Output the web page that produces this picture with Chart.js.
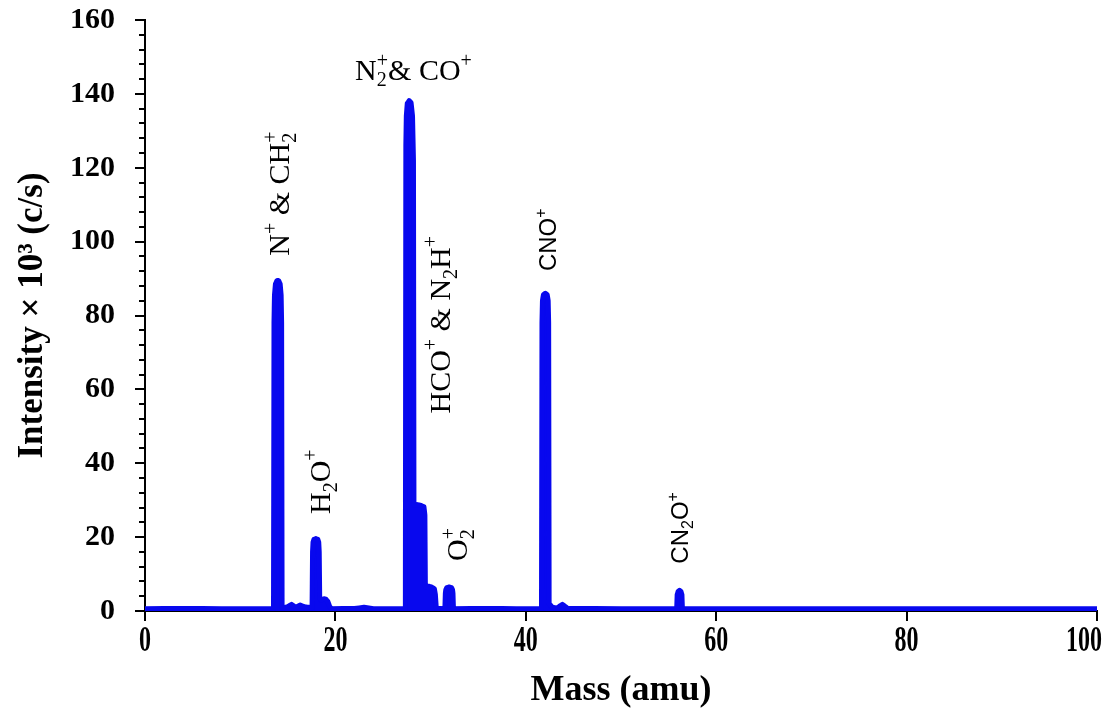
<!DOCTYPE html>
<html lang="en">
<head>
<meta charset="utf-8">
<script src="https://cdn.jsdelivr.net/npm/chart.js@4.4.0/dist/chart.umd.min.js"></script>
<style>
  html, body { margin: 0; padding: 0; background: #fff; }
  #wrap { width: 1106px; height: 715px; }
</style>
</head>
<body>
<div id="wrap"><canvas id="spectrum" width="1106" height="715"></canvas></div>
<script>
// mass scan, one intensity reading per mass step (x 10^3 c/s)
var masses = [
  0, 4, 8, 12, 13.5,
  13.55, 13.6, 13.7, 13.85, 13.95, 14.05, 14.2, 14.3, 14.35, 14.4,
  15.0, 15.4, 15.8, 16.3, 16.8, 17.55,
  17.6, 17.65, 17.75, 17.95, 18.15, 18.25, 18.3, 18.35,
  18.5, 18.8, 19.0, 19.2, 19.4, 19.6, 22, 23, 24, 27.35,
  27.4, 27.45, 27.55, 27.75, 27.95, 28.1, 28.2, 28.25,
  28.3, 28.6, 29.0, 29.3, 29.4, 29.45,
  29.5, 29.8, 30.1, 30.4, 30.5, 30.6, 31.5,
  31.55, 31.6, 31.7, 31.95, 32.2, 32.3, 32.35, 32.4,
  36, 39, 41.65,
  41.7, 41.75, 41.85, 42.05, 42.25, 42.35, 42.4, 42.45,
  42.8, 43.3, 43.6, 43.85, 44.1, 44.4, 50, 55.85,
  55.9, 56.0, 56.15, 56.3, 56.4, 56.45,
  65, 75, 85, 95, 100
];
var intensity = [
  0.6, 0.7, 0.6, 0.6, 0.6,
  78, 85.5, 88.5, 89.4, 89.5, 89.4, 88.5, 85.5, 78, 0.8,
  1.2, 1.8, 1.0, 1.6, 1.1, 0.9,
  16, 18.6, 19.4, 19.6, 19.4, 18.6, 16, 3.5,
  3.0, 3.3, 3.2, 2.6, 1.2, 0.6, 0.7, 1.0, 0.6, 0.6,
  126, 134, 137.4, 138.2, 137.6, 134, 122, 29,
  28.6, 28.8, 28.6, 28.2, 26, 6.5,
  6.6, 6.7, 6.5, 6.0, 4.5, 0.7, 0.6,
  4.8, 5.8, 6.3, 6.5, 6.3, 5.8, 4.8, 0.6,
  0.7, 0.6, 0.6,
  78, 84, 85.6, 86, 85.6, 84, 78, 2,
  1.0, 0.8, 1.4, 1.8, 1.3, 0.7, 0.6, 0.6,
  4.4, 5.3, 5.6, 5.3, 4.4, 0.6,
  0.6, 0.6, 0.6, 0.6, 0.6
];
var massTicks = [0, 20, 40, 60, 80, 100];
var intensityMax = 160;

// ion assignments: text pieces ['txt', 'sub'|'sup'], placed at (mass, level)
var ionLabels = [
  { parts: [['N'], ['+', 'sup'], [' & CH'], ['2', 'sub'], ['+', 'sup']], mass: 14.1, level: 113, vertical: true },
  { parts: [['H'], ['2', 'sub'], ['O'], ['+', 'sup']], mass: 18.4, level: 35, vertical: true },
  { parts: [['N'], ['2', 'sub'], ['+', 'sup'], ['& CO'], ['+', 'sup']], mass: 28.2, level: 146.5, vertical: false },
  { parts: [['HCO'], ['+', 'sup'], [' & N'], ['2', 'sub'], ['H'], ['+', 'sup']], mass: 31.0, level: 77.5, vertical: true },
  { parts: [['O'], ['2', 'sub'], ['+', 'sup']], mass: 32.8, level: 18, vertical: true },
  { parts: [['CNO'], ['+', 'sup']], mass: 42.3, level: 100.5, vertical: true, sans: true },
  { parts: [['CN'], ['2', 'sub'], ['O'], ['+', 'sup']], mass: 56.2, level: 22.5, vertical: true, sans: true }
];

var serif = '"Liberation Serif", "Times New Roman", serif';
var sans = '"Liberation Sans", Arial, sans-serif';
var blue = 'rgb(8, 8, 238)';

// draws sub/superscripted text centred on (0,0)
function drawRich(ctx, parts, size, family) {
  var small = Math.round(size * 0.65);
  var items = [], x = 0, subStart = null, subW = 0;
  parts.forEach(function (p) {
    var kind = p[1] || '';
    ctx.font = (kind ? small : size) + 'px ' + family;
    var w = ctx.measureText(p[0]).width;
    var start = x;
    if (kind === 'sup' && subStart !== null) {
      start = subStart;
      x = subStart + Math.max(w, subW);
    } else {
      x += w;
    }
    items.push({ t: p[0], kind: kind, x: start });
    if (kind === 'sub') { subStart = start; subW = w; } else { subStart = null; }
  });
  var total = x;
  ctx.fillStyle = '#000';
  ctx.textBaseline = 'alphabetic';
  ctx.textAlign = 'left';
  items.forEach(function (it) {
    ctx.font = (it.kind ? small : size) + 'px ' + family;
    var dy = size * 0.33;
    if (it.kind === 'sub') dy += size * 0.22;
    if (it.kind === 'sup') dy -= size * 0.42;
    ctx.fillText(it.t, it.x - total / 2, dy);
  });
}

var ionLabelPlugin = {
  id: 'ionLabels',
  afterDatasetsDraw: function (chart) {
    var ctx = chart.ctx, xs = chart.scales.x, ys = chart.scales.y;
    ionLabels.forEach(function (l) {
      ctx.save();
      ctx.translate(xs.getPixelForValue(l.mass), ys.getPixelForValue(l.level));
      if (l.vertical) ctx.rotate(-Math.PI / 2);
      drawRich(ctx, l.parts, l.sans ? 24 : 30, l.sans ? sans : serif);
      ctx.restore();
    });
  }
};

// minor y ticks and the tall mass labels under the x axis
var axisExtras = {
  id: 'axisExtras',
  afterDraw: function (chart) {
    var ctx = chart.ctx, xs = chart.scales.x, ys = chart.scales.y;
    var left = chart.chartArea.left;
    ctx.save();
    ctx.strokeStyle = '#000';
    ctx.lineWidth = 2;
    for (var v = 4; v < intensityMax; v += 4) {
      if (v % 20 === 0) continue;
      var py = Math.round(ys.getPixelForValue(v));
      ctx.beginPath();
      ctx.moveTo(left - 6, py);
      ctx.lineTo(left, py);
      ctx.stroke();
    }
    ctx.fillStyle = '#000';
    ctx.font = 'bold 24px ' + serif;
    ctx.textAlign = 'center';
    ctx.textBaseline = 'middle';
    massTicks.forEach(function (m) {
      var txt = String(m);
      var w = ctx.measureText(txt).width;
      var px = Math.min(xs.getPixelForValue(m), chart.width - 4 - w / 2);
      ctx.save();
      ctx.translate(px, xs.top + 31);
      ctx.scale(1, 1.45);
      ctx.fillText(txt, 0, 0);
      ctx.restore();
    });
    ctx.restore();
  }
};

var points = masses.map(function (m, i) { return { x: m, y: intensity[i] }; });

new Chart(document.getElementById('spectrum'), {
  type: 'line',
  data: {
    datasets: [{
      data: points,
      borderColor: blue,
      backgroundColor: blue,
      borderWidth: 5,
      borderJoinStyle: 'round',
      borderCapStyle: 'round',
      fill: 'origin',
      pointRadius: 0,
      // tiny tension keeps every point in the path (no per-pixel merging)
      tension: 0.0001
    }]
  },
  options: {
    responsive: false,
    animation: false,
    devicePixelRatio: 1,
    layout: { padding: { top: 20, right: 9, left: 0, bottom: 0 } },
    plugins: { legend: { display: false }, tooltip: { enabled: false } },
    scales: {
      x: {
        type: 'linear',
        min: 0,
        max: 100,
        afterBuildTicks: function (scale) {
          scale.ticks = massTicks.map(function (v) { return { value: v }; });
        },
        ticks: { display: false },
        grid: { drawOnChartArea: false, drawTicks: true, tickLength: 10, color: '#000', lineWidth: 2 },
        border: { display: true, color: '#000', width: 2 },
        title: {
          display: true,
          text: 'Mass (amu)',
          color: '#000',
          font: { family: serif, size: 36, weight: 'bold' },
          padding: { top: 0, bottom: 3 }
        },
        afterFit: function (scale) {
          scale.height = 104;
          scale.paddingLeft = 0;
          scale.paddingRight = 0;
        }
      },
      y: {
        min: 0,
        max: intensityMax,
        ticks: {
          stepSize: 20,
          color: '#000',
          padding: 20,
          font: { family: serif, size: 30, weight: 'bold' }
        },
        grid: { drawOnChartArea: false, drawTicks: true, tickLength: 10, color: '#000', lineWidth: 2 },
        border: { display: true, color: '#000', width: 2 },
        title: {
          display: true,
          text: 'Intensity \u00d7 10\u00b3 (c/s)',
          color: '#000',
          font: { family: serif, size: 35, weight: 'bold' },
          padding: { top: 12, bottom: 0 }
        },
        afterFit: function (scale) {
          scale.width = 145;
          scale.paddingTop = 0;
          scale.paddingBottom = 0;
        }
      }
    }
  },
  plugins: [ionLabelPlugin, axisExtras]
});
</script>
</body>
</html>
